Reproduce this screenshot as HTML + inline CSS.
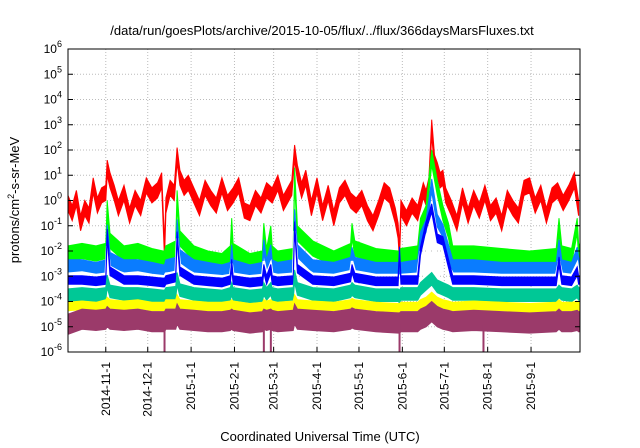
<!DOCTYPE html>
<html><head><meta charset="utf-8">
<style>
html,body{margin:0;padding:0;background:#fff;}
svg{display:block;font-family:"Liberation Sans",sans-serif;}
</style></head>
<body>
<svg id="chart" width="640" height="448" viewBox="0 0 640 448">
<defs><clipPath id="pc"><rect x="68" y="49" width="512" height="303"/></clipPath></defs>
<text x="322" y="35" font-size="13" text-anchor="middle">/data/run/goesPlots/archive/2015-10-05/flux/../flux/366daysMarsFluxes.txt</text>
<g id="grid"></g>
<g id="series" clip-path="url(#pc)"></g>
<rect x="68" y="49" width="512" height="303" fill="none" stroke="#000" stroke-width="1"/>
<g id="axes"></g>
<text x="320" y="441" font-size="13" text-anchor="middle">Coordinated Universal Time (UTC)</text>
<text transform="translate(19,200) rotate(-90)" font-size="13" text-anchor="middle">protons/cm<tspan baseline-shift="super" font-size="9">2</tspan>-s-sr-MeV</text>
</svg>
<script>
const xTickLabels=["2014-11-1","2014-12-1","2015-1-1","2015-2-1","2015-3-1","2015-4-1","2015-5-1","2015-6-1","2015-7-1","2015-8-1","2015-9-1"];
const xTickDays=[27,57,88,119,147,178,208,239,269,300,331];
const yTickExps=[-6,-5,-4,-3,-2,-1,0,1,2,3,4,5,6];
const redDays=[0,3,6,9,12,15,18,21,24,27,28,30,33,36,40,44,48,52,56,60,64,67,69,70,73,76,78,80,83,86,90,94,98,102,106,110,114,118,122,126,130,134,138,142,146,150,154,158,160,162,164,167,170,174,178,182,186,190,194,198,202,206,210,214,218,222,226,230,234,236,237,238,242,246,250,254,256,258,260,262,264,266,268,270,274,278,282,286,290,294,298,302,306,310,314,318,322,326,330,334,338,342,346,350,354,358,362,365];
const redVals=[-0.1,-0.5,0.1,-0.9,-0.3,-0.6,0.6,-0.2,0.2,0.3,1.3,0.8,0.3,-0.3,0.3,-0.6,0.1,-0.3,0.6,0.2,0.4,0.8,-2,-0.2,0.5,0.3,1.8,0.9,0.5,0.7,0.2,-0.3,0.5,0.1,-0.2,0.6,-0.1,0.2,0.6,-0.4,-0.5,0.1,-0.2,0.4,0.2,0.7,-0.1,0.3,0.5,1.9,1.1,0.4,0.9,-0.3,0.6,-0.5,0.3,-0.7,0.2,0.5,0,-0.2,0.1,-0.5,-0.9,-0.3,0.4,0.2,-0.6,-1.2,-2.1,-0.3,-0.7,-0.2,-0.5,0.4,0.1,0.6,2.9,1.5,1.2,0.8,0.9,0.2,-0.3,-0.9,0.2,-0.6,0.1,-0.4,0.3,-0.5,-0.2,-0.9,0.1,-0.3,-0.6,0.5,0.6,-0.2,0.3,-0.6,0.2,0.4,-0.1,0.3,0.8,-0.3];
const days=[0,10,20,27,28,30,40,50,60,68,69,70,77,78,80,90,100,110,116,117,118,130,139,140,142,145,146,150,161,162,164,175,190,202,203,205,220,236,237,238,250,252,256,260,264,268,272,275,290,310,330,349,351,353,360,364,365,366];
const greenVals=[-2.1,-2.0,-2.1,-2.0,-0.3,-1.6,-2.1,-2.0,-2.2,-2.3,-2.3,-2.1,-1.9,0.1,-1.5,-2.1,-2.3,-2.4,-2.1,-1.0,-2.0,-2.4,-2.3,-1.2,-2.2,-1.3,-2.1,-2.3,-2.2,1.0,-1.3,-1.9,-2.3,-2.0,-1.2,-1.9,-2.2,-2.3,-2.4,-2.2,-2.1,-1.0,-0.5,1.7,0.5,-0.5,-1.2,-2.1,-2.1,-2.2,-2.3,-2.2,-1.0,-2.1,-2.2,-1.0,-2.0,-2.1];
const lightBlueVals=[-2.6,-2.6,-2.7,-2.6,-1.2,-2.3,-2.6,-2.6,-2.7,-2.8,-2.8,-2.6,-2.5,-1.0,-2.2,-2.6,-2.7,-2.8,-2.7,-2.0,-2.6,-2.8,-2.7,-1.8,-2.6,-2.0,-2.6,-2.7,-2.6,-0.6,-2.0,-2.6,-2.7,-2.5,-2.1,-2.5,-2.7,-2.7,-2.8,-2.7,-2.6,-1.5,-1.0,0.6,-0.8,-1.2,-2.0,-2.6,-2.6,-2.7,-2.7,-2.7,-1.8,-2.6,-2.7,-2.1,-2.5,-2.6];
const whiteVals=[-2.9,-2.85,-2.95,-2.9,-1.8,-2.7,-2.9,-2.85,-2.95,-3.0,-3.0,-2.9,-2.85,-1.5,-2.6,-2.9,-2.95,-3.0,-2.95,-2.5,-2.9,-3.0,-2.95,-2.4,-2.9,-2.5,-2.9,-2.95,-2.9,-1.2,-2.5,-2.9,-2.95,-2.8,-2.4,-2.8,-2.95,-2.95,-3.0,-2.95,-2.9,-2.0,-3.2,-0.5,-3.3,-1.8,-2.6,-2.9,-2.9,-2.95,-2.95,-2.95,-2.4,-2.9,-2.95,-2.5,-2.85,-2.9];
const blueVals=[-3.15,-3.15,-3.2,-3.15,-1.3,-2.8,-3.15,-3.15,-3.2,-3.25,-3.25,-3.15,-3.05,-1.4,-2.8,-3.15,-3.2,-3.25,-3.15,-2.5,-3.15,-3.25,-3.2,-2.7,-3.15,-2.7,-3.15,-3.2,-3.15,-1.0,-2.7,-3.15,-3.2,-3.05,-2.7,-3.05,-3.2,-3.2,-2.0,-3.15,-3.15,-2.0,-1.0,-0.3,-1.5,-1.6,-2.5,-3.15,-3.15,-3.2,-3.2,-3.2,-2.4,-3.15,-3.2,-2.8,-3.15,-3.15];
const tealVals=[-3.75,-3.7,-3.75,-3.7,-3.2,-3.6,-3.7,-3.7,-3.75,-3.8,-3.8,-3.7,-3.65,-3.1,-3.55,-3.7,-3.75,-3.8,-3.7,-3.5,-3.7,-3.8,-3.75,-3.5,-3.7,-3.5,-3.7,-3.75,-3.7,-3.0,-3.5,-3.7,-3.75,-3.6,-3.5,-3.6,-3.75,-3.75,-3.8,-3.7,-3.7,-3.5,-3.3,-3.1,-3.4,-3.5,-3.6,-3.7,-3.7,-3.75,-3.75,-3.75,-3.6,-3.7,-3.75,-3.6,-3.7,-3.7];
const yellowVals=[-4.2,-4.15,-4.2,-4.1,-4.0,-4.1,-4.15,-4.1,-4.2,-4.2,-4.2,-4.1,-4.1,-3.9,-4.1,-4.15,-4.2,-4.2,-4.15,-4.1,-4.15,-4.25,-4.2,-4.1,-4.15,-4.1,-4.15,-4.2,-4.15,-3.9,-4.1,-4.15,-4.2,-4.1,-4.05,-4.1,-4.2,-4.25,-4.25,-4.2,-4.2,-4.1,-4.0,-3.8,-4.0,-4.1,-4.15,-4.2,-4.15,-4.2,-4.25,-4.2,-4.1,-4.2,-4.2,-4.15,-4.2,-4.2];
const purpleVals=[-4.9,-4.7,-4.75,-4.7,-4.6,-4.7,-4.75,-4.7,-4.8,-4.8,-4.8,-4.7,-4.7,-4.5,-4.7,-4.75,-4.8,-4.8,-4.75,-4.7,-4.75,-4.85,-4.8,-4.7,-4.75,-4.7,-4.75,-4.8,-4.75,-4.5,-4.7,-4.75,-4.8,-4.7,-4.65,-4.7,-4.8,-4.85,-4.85,-4.8,-4.8,-4.7,-4.6,-4.4,-4.6,-4.7,-4.75,-4.8,-4.75,-4.8,-4.85,-4.8,-4.7,-4.8,-4.8,-4.75,-4.8,-4.8];
const purpleDipDays=[69,140,145,237,297];

const NS="http://www.w3.org/2000/svg";
const X0=68,X1=580,Y0=49,Y1=352,NDAYS=366;
function xs(d){return X0+(X1-X0)*d/NDAYS;}
function ys(e){return Y1-(Y1-Y0)*(e+6)/12;}
function mk(tag,attrs,parent){const el=document.createElementNS(NS,tag);for(const k in attrs)el.setAttribute(k,attrs[k]);parent.appendChild(el);return el;}
const grid=document.getElementById('grid'),axes=document.getElementById('axes'),ser=document.getElementById('series');
yTickExps.forEach(e=>{
  const y=ys(e);
  if(e>-6&&e<6){const g=mk('line',{x1:X0,x2:X1,y1:y,y2:y,stroke:'#bbb','stroke-dasharray':'1,2','stroke-width':1},grid);
  
  }
  const t1=mk('line',{x1:X0,x2:X0+5,y1:y,y2:y,stroke:'#000'},axes);
  
  
  const t2=mk('line',{x1:X1-5,x2:X1,y1:y,y2:y,stroke:'#000'},axes);
  
  
  const tx=mk('text',{x:X0-6,y:y+4,'font-size':12,'text-anchor':'end'},axes);
  
  
  tx.textContent='10';
  const sp=mk('tspan',{dy:-6,'font-size':9},tx);sp.textContent=String(e);
});
xTickDays.forEach((d,i)=>{
  const x=xs(d);
  const g=mk('line',{x1:x,x2:x,y1:Y0,y2:Y1,stroke:'#bbb','stroke-dasharray':'1,2'},grid);
  
  
  const t=mk('line',{x1:x,x2:x,y1:Y1-5,y2:Y1,stroke:'#000'},axes);
  
  
  const tx=mk('text',{transform:`translate(${x+4},${Y1+10}) rotate(-90)`,'font-size':12,'text-anchor':'end'},axes);
  
  
  tx.textContent=xTickLabels[i];
});
function band(dd,vv,color,hw,name){
  const up=dd.map((d,i)=>xs(d).toFixed(1)+','+ys(vv[i]+hw).toFixed(1));
  const lo=dd.map((d,i)=>xs(d).toFixed(1)+','+ys(vv[i]-hw).toFixed(1)).reverse();
  const p=mk('polygon',{points:up.concat(lo).join(' '),fill:color,stroke:color,'stroke-width':1},ser);
  
  
}
function line(dd,vv,color,w,name){
  const p=mk('polyline',{points:dd.map((d,i)=>xs(d).toFixed(1)+','+ys(vv[i]).toFixed(1)).join(' '),fill:'none',stroke:color,'stroke-width':w},ser);
  
  
}
band(redDays,redVals,'#ff0000',0.3,'series-red');
band(days,greenVals,'#00ff00',0.3,'series-green');
band(days,lightBlueVals,'#0a7cff',0.25,'series-lightblue');
line(days,whiteVals,'#ffffff',2.5,'series-white');
band(days,blueVals,'#0000ff',0.17,'series-blue');
band(days,tealVals,'#00c896',0.25,'series-teal');
band(days,yellowVals,'#ffff00',0.17,'series-yellow');
band(days,purpleVals,'#9b3a6a',0.4,'series-purple');
purpleDipDays.forEach(d=>{
  const l=mk('line',{x1:xs(d),x2:xs(d),y1:ys(-4.9),y2:Y1,stroke:'#9b3a6a','stroke-width':2},ser);
  
  
});
</script>
</body></html>
